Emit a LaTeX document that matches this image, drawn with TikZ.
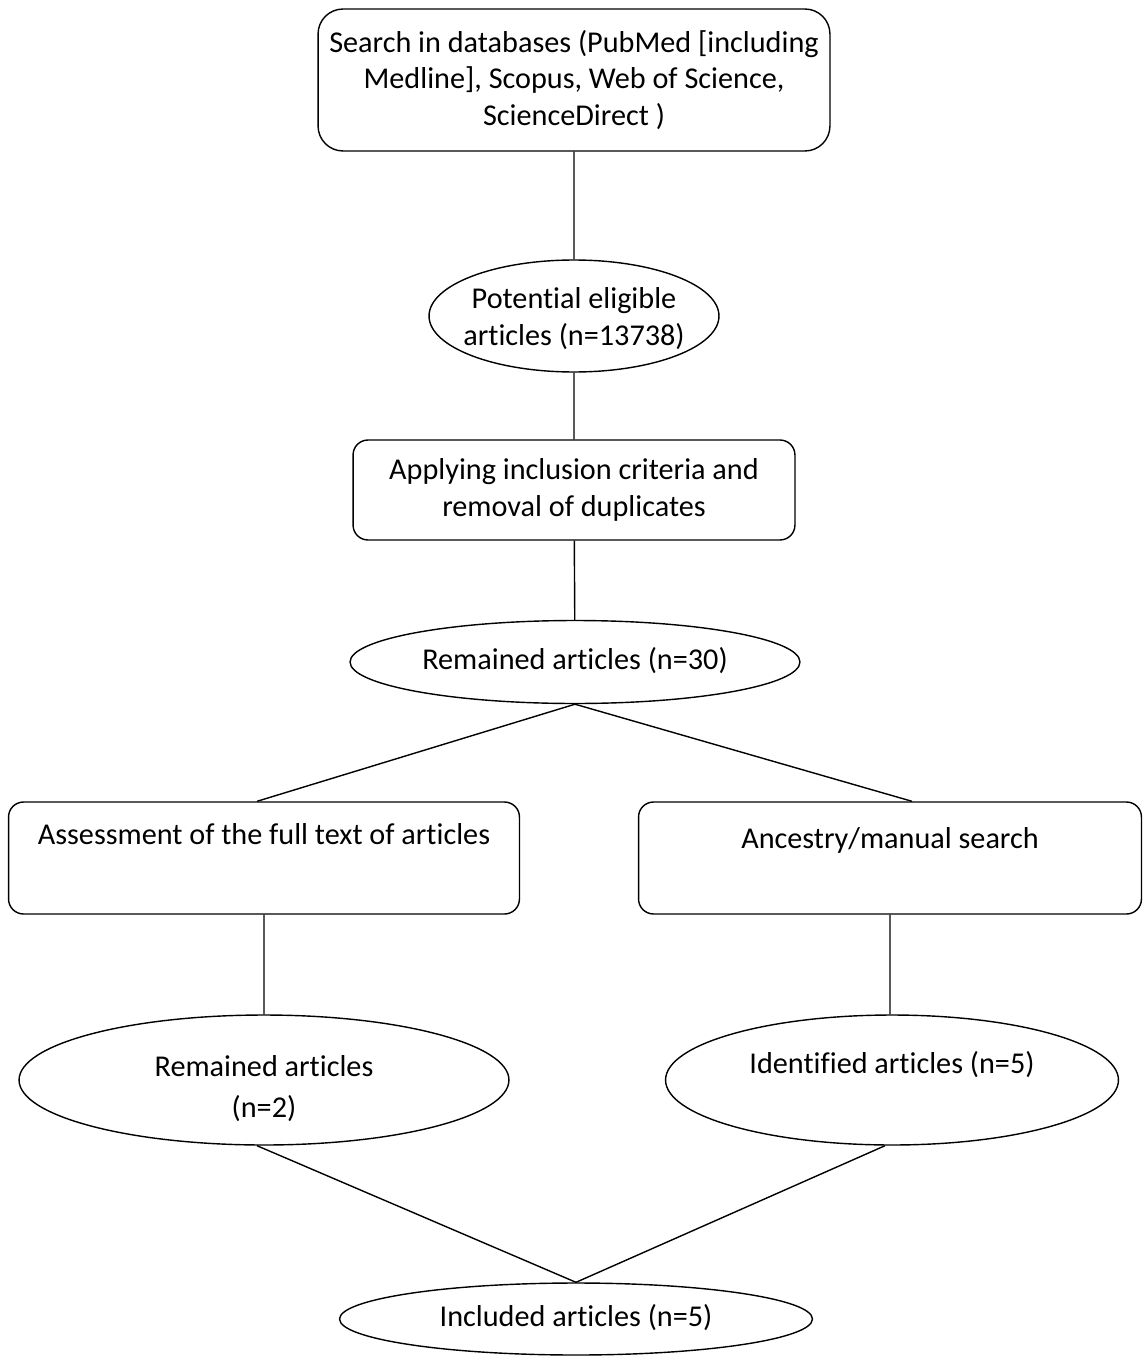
\documentclass[tikz,border=0pt]{standalone}
\usepackage{fontspec}
\setmainfont{Carlito}[Ligatures=NoCommon]
\usepackage{tikz}
\usetikzlibrary{shapes.geometric, positioning}

\newcommand{\ovaltext}[2][0pt]{\makebox[0pt]{\raisebox{#1}[\height][\depth]{\begin{tabular}{@{}c@{}}#2\end{tabular}}}}

\begin{document}
\fontsize{17.2}{21}\selectfont
\begin{tikzpicture}[x=0.02cm, y=-0.02cm, line width=0.8pt,
    box/.style={draw, rounded corners=0.3cm, align=center, inner sep=0pt},
    oval/.style={draw, ellipse, inner sep=0pt}]
                    \useasboundingbox (0, 0) rectangle (1143, 1365);

                    \node[box, rounded corners=0.5cm, minimum width=10.24cm, minimum height=2.84cm] (search) at (574, 80)
                        {Search in databases (PubMed [including\\Medline], Scopus, Web of Science,\\ScienceDirect )};
                    \node[oval, minimum width=5.8cm, minimum height=2.24cm] (potential) at (574, 316)
                        {\ovaltext[-0.07cm]{Potential eligible\\articles (n=13738)}};
                    \node[box, minimum width=8.84cm, minimum height=2cm] (criteria) at (574, 490)
                        {Applying inclusion criteria and\\removal of duplicates};
                    \node[oval, minimum width=9cm, minimum height=1.66cm] (remained) at (575, 662)
                        {\ovaltext{Remained articles (n=30)}};
                    \node[box, minimum width=10.22cm, minimum height=2.24cm] (assess) at (264, 858)
                        {Assessment of the full text of articles\\[6pt] \mbox{}};
                    \node[box, minimum width=10.06cm, minimum height=2.24cm] (ancestry) at (890, 858)
                        {Ancestry/manual search\\[2pt] \mbox{}};
                    \node[oval, minimum width=9.8cm, minimum height=2.6cm] (remained2) at (264, 1080)
                        {\ovaltext[-0.19cm]{Remained articles\\[2pt](n=2)}};
                    \node[oval, minimum width=9.06cm, minimum height=2.6cm] (identified) at (892, 1080)
                        {\ovaltext[0.28cm]{Identified articles (n=5)}};
                    \node[oval, minimum width=9.46cm, minimum height=1.44cm] (included) at (576, 1319)
                        {\ovaltext{Included articles (n=5)}};

                    \draw
                    (search) -- (potential)
                    (potential) -- (criteria)
                    (criteria) -- (remained)
                    (remained.south) -- ([xshift=-0.14cm]assess.north)
                    (remained.south) -- ([xshift=0.44cm]ancestry.north)
                    (assess.south) -- (remained2.north)
                    (ancestry.south) -- (identified.north -| ancestry.south)
                    ([xshift=-0.14cm]remained2.south) -- (included.north)
                    ([xshift=-0.14cm]identified.south) -- (included.north);
                \end{tikzpicture}
\end{document}
